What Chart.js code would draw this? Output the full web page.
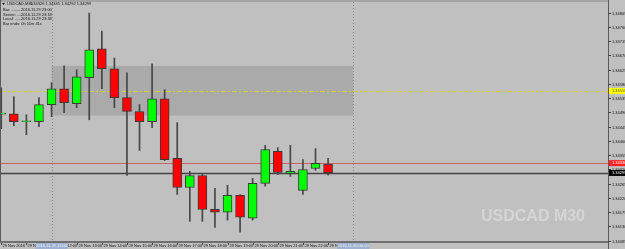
<!DOCTYPE html>
<html lang="en">
<head>
<meta charset="UTF-8">
<title>USDCAD M30</title>
<script src="https://cdn.jsdelivr.net/npm/chart.js"></script>
<style>
  html, body { margin: 0; padding: 0; background: #c0c0c0; }
  #wrap { width: 625px; height: 249px; position: relative; }
</style>
</head>
<body>
<div id="wrap"><canvas id="chart"></canvas></div>
<script>
// USDCAD M30, 29 Nov 2016 10:00 .. 23:00
const opens  = [1.34485,1.34486,1.34461,1.34461,1.34515,1.34565,1.34518,1.34600,1.34691,1.34628,1.34537,1.34493,1.34461,1.34533,1.34345,1.34253,1.34291,1.34184,1.34175,1.34228,1.34156,1.34266,1.34367,1.34297,1.34244,1.34313,1.34326];
const highs  = [1.34568,1.34540,1.34483,1.34537,1.34584,1.34637,1.34625,1.34804,1.34747,1.34662,1.34615,1.34515,1.34644,1.34562,1.34458,1.34304,1.34297,1.34250,1.34260,1.34231,1.34282,1.34386,1.34379,1.34386,1.34341,1.34376,1.34345];
const lows   = [1.34439,1.34448,1.34420,1.34445,1.34477,1.34489,1.34505,1.34467,1.34565,1.34505,1.34291,1.34370,1.34442,1.34338,1.34231,1.34146,1.34146,1.34127,1.34150,1.34112,1.34150,1.34257,1.34294,1.34288,1.34231,1.34307,1.34292];
const closes = [1.34488,1.34461,1.34464,1.34515,1.34565,1.34521,1.34603,1.34688,1.34628,1.34537,1.34493,1.34461,1.34533,1.34341,1.34253,1.34291,1.34184,1.34175,1.34228,1.34159,1.34266,1.34373,1.34301,1.34304,1.34310,1.34329,1.34299];

// bottom axis: bar index -> label
const xTickIdx    = [0, 2, 4, 6, 8, 10, 12, 14, 16, 18, 20, 22, 24, 26];
const xTickLabels = ['29 Nov 2016','29 Nov 11:00','29 Nov 12:00','29 Nov 13:00','29 Nov 14:00','29 Nov 15:00','29 Nov 16:00',
                     '29 Nov 17:00','29 Nov 18:00','29 Nov 19:00','29 Nov 20:00','29 Nov 21:00','29 Nov 22:00','29 Nov 23:00'];
// right axis
const yTicks = [1.34805,1.34760,1.34715,1.34670,1.34625,1.34580,1.34535,1.34490,1.34445,1.34400,1.34355,1.34310,1.34265,1.34220,1.34175,1.34130,1.34085];

// period separators (bar index) and their highlighted time labels
const sepIdx    = [4, 28];
const sepLabels = ['2016.11.29 12:00', '2016.11.30 00:00'];

// rectangle zone, horizontal levels
const zoneBars  = [4, 28];
const zonePrice = [1.34637, 1.34480];
const levelYellow = 1.34558;
const levelAsk    = 1.34330;
const levelBid    = 1.34299;

const infoLines = [
  ['USDCAD,M30', '1.34326 1.34345 1.34292 1.34299'],
  ['Bar: ........', '2016.11.29 23:00'],
  ['Server: .....', '2016.11.29 23:18'],
  ['Local: ......', '2016.11.29 23:48'],
  ['Bar ends: 0h 11m 41s', '']
];

const wicks  = highs.map((h, i) => ({ x: i, y: [lows[i], h] }));
const bodies = opens.map((o, i) => ({ x: i, y: [o, closes[i]] }));
const bodyColors = opens.map((o, i) => closes[i] >= o ? '#00ff00' : '#ff0000');

const FONT = '4px "Liberation Sans", Arial, sans-serif';

const overlay = {
  id: 'overlay',
  beforeDraw(chart) {
    const { ctx, chartArea: a, width, height } = chart;
    ctx.save();
    ctx.fillStyle = '#c0c0c0';
    ctx.fillRect(0, 0, width, height);
    ctx.fillStyle = '#a4a4a4';
    ctx.fillRect(0, 0, a.right, 2);
    ctx.restore();
  },
  beforeDatasetsDraw(chart) {
    const { ctx, chartArea: a, scales: { x, y } } = chart;
    ctx.save();
    ctx.beginPath();
    ctx.rect(a.left, a.top, a.right - a.left, a.bottom - a.top);
    ctx.clip();

    // zone rectangle
    const zx0 = x.getPixelForValue(zoneBars[0]), zx1 = x.getPixelForValue(zoneBars[1]);
    const zy0 = y.getPixelForValue(zonePrice[0]), zy1 = y.getPixelForValue(zonePrice[1]);
    ctx.fillStyle = '#aaaaaa';
    ctx.fillRect(zx0, zy0, zx1 - zx0, zy1 - zy0);

    // watermark
    ctx.font = 'bold 16px "Liberation Sans", Arial, sans-serif';
    ctx.fillStyle = '#d6d6d6';
    ctx.textAlign = 'left';
    ctx.textBaseline = 'alphabetic';
    ctx.fillText('USDCAD M30', 481, 221);

    // period separators
    ctx.strokeStyle = '#8a8a8a';
    ctx.lineWidth = 1;
    ctx.setLineDash([1, 2]);
    sepIdx.forEach(i => {
      const px = Math.round(x.getPixelForValue(i)) + 0.5;
      ctx.beginPath(); ctx.moveTo(px, a.top); ctx.lineTo(px, a.bottom); ctx.stroke();
    });

    // yellow level
    const yy = Math.round(y.getPixelForValue(levelYellow)) + 0.5;
    ctx.strokeStyle = '#d4d21c';
    ctx.setLineDash([5, 2, 2, 2]);
    ctx.beginPath(); ctx.moveTo(a.left, yy); ctx.lineTo(a.right, yy); ctx.stroke();
    ctx.setLineDash([]);

    // ask / bid lines
    const ya = Math.round(y.getPixelForValue(levelAsk)) + 0.5;
    ctx.strokeStyle = '#d06060';
    ctx.beginPath(); ctx.moveTo(a.left, ya); ctx.lineTo(a.right, ya); ctx.stroke();
    const yb = Math.round(y.getPixelForValue(levelBid)) + 0.5;
    ctx.strokeStyle = '#444444';
    ctx.lineWidth = 1.5;
    ctx.beginPath(); ctx.moveTo(a.left, yb); ctx.lineTo(a.right, yb); ctx.stroke();
    ctx.restore();
  },
  afterDraw(chart) {
    const { ctx, chartArea: a, scales: { x, y }, width, height } = chart;
    ctx.save();
    ctx.font = FONT;

    // frame lines
    ctx.strokeStyle = '#5a5a5a';
    ctx.lineWidth = 1;
    ctx.beginPath(); ctx.moveTo(a.right + 0.5, 0); ctx.lineTo(a.right + 0.5, height); ctx.stroke();
    ctx.beginPath(); ctx.moveTo(0.5, 0); ctx.lineTo(0.5, a.bottom); ctx.stroke();
    ctx.strokeStyle = '#707070';
    ctx.lineWidth = 2;
    ctx.beginPath(); ctx.moveTo(0, a.bottom + 1); ctx.lineTo(a.right, a.bottom + 1); ctx.stroke();

    // right axis ticks
    ctx.lineWidth = 1;
    ctx.strokeStyle = '#404040';
    ctx.fillStyle = '#111111';
    ctx.textAlign = 'left';
    ctx.textBaseline = 'middle';
    yTicks.forEach(v => {
      const py = Math.round(y.getPixelForValue(v)) + 0.5;
      ctx.beginPath(); ctx.moveTo(a.right, py); ctx.lineTo(a.right + 3, py); ctx.stroke();
      ctx.fillText(v.toFixed(5), a.right + 4, py);
    });

    // price boxes
    const box = (v, bg, fg) => {
      const py = y.getPixelForValue(v);
      ctx.fillStyle = bg;
      ctx.fillRect(a.right + 1, py - 3, width - a.right - 1, 6);
      ctx.fillStyle = fg;
      ctx.fillText(v.toFixed(5), a.right + 4, py);
    };
    box(levelYellow, '#ffff00', '#555555');
    box(levelAsk, '#ff2020', '#ffffff');
    box(levelBid, '#000000', '#ffffff');

    // bottom axis
    ctx.strokeStyle = '#404040';
    ctx.fillStyle = '#111111';
    ctx.textBaseline = 'middle';
    xTickIdx.forEach((idx, k) => {
      const px = Math.round(x.getPixelForValue(idx)) + 0.5;
      ctx.beginPath(); ctx.moveTo(px, a.bottom + 2); ctx.lineTo(px, a.bottom + 4); ctx.stroke();
      ctx.fillText(xTickLabels[k], px + 1, a.bottom + 5);
    });
    sepIdx.forEach((idx, k) => {
      const px = x.getPixelForValue(idx);
      ctx.fillStyle = '#9fb3d0';
      ctx.fillRect(px - 16, a.bottom + 2, 32, 6);
      ctx.fillStyle = '#e6edf7';
      ctx.textAlign = 'center';
      ctx.fillText(sepLabels[k], px, a.bottom + 5);
      ctx.textAlign = 'left';
    });

    // info block
    ctx.fillStyle = '#111111';
    ctx.beginPath();
    ctx.moveTo(2, 3); ctx.lineTo(5, 3); ctx.lineTo(3.5, 5); ctx.closePath(); ctx.fill();
    const rows = [4, 9.5, 14.5, 19, 24];
    infoLines.forEach((ln, k) => {
      ctx.fillText(ln[0], k === 0 ? 7 : 3, rows[k]);
      if (ln[1]) ctx.fillText(ln[1], k === 0 ? 30 : 21, rows[k]);
    });
    ctx.restore();
  }
};

new Chart(document.getElementById('chart'), {
  type: 'bar',
  data: {
    datasets: [
      {
        label: 'body',
        data: bodies,
        backgroundColor: bodyColors,
        borderColor: '#3a3a3a',
        borderWidth: 1,
        borderSkipped: false,
        barThickness: 9,
        grouped: false,
        order: 0
      },
      {
        label: 'wick',
        data: wicks,
        backgroundColor: '#464646',
        borderWidth: 0,
        barThickness: 1,
        grouped: false,
        order: 1
      }
    ]
  },
  options: {
    responsive: true,
    maintainAspectRatio: false,
    animation: false,
    events: [],
    layout: { padding: { left: 1, right: 17, top: 2, bottom: 8 } },
    plugins: { legend: { display: false }, tooltip: { enabled: false } },
    scales: {
      x: { type: 'linear', display: false, min: -0.02, max: 48.27, offset: false },
      y: { display: false, min: 1.34084, max: 1.34839 }
    }
  },
  plugins: [overlay]
});
</script>
</body>
</html>
